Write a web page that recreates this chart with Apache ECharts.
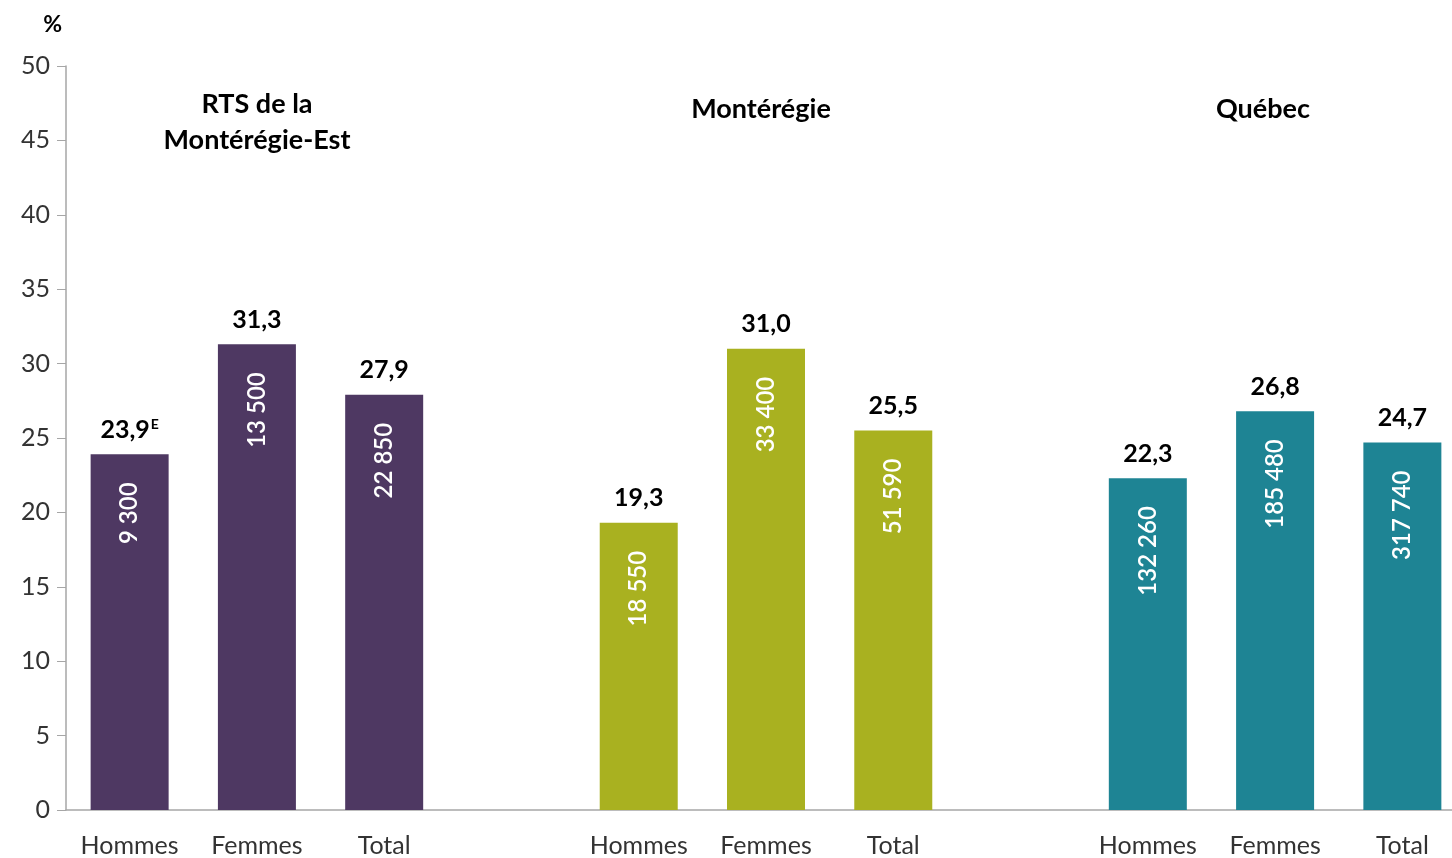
<!DOCTYPE html>
<html>
<head>
<meta charset="utf-8">
<script src="https://cdn.jsdelivr.net/npm/echarts@6/dist/echarts.min.js"></script>
<style>
  html, body { margin: 0; padding: 0; background: #fff; overflow: hidden; }
  #chart { width: 1480px; height: 858px; }
</style>
</head>
<body>
<div id="chart"></div>
<script>
const categories = ["Hommes", "Femmes", "Total", "", "Hommes", "Femmes", "Total", "", "Hommes", "Femmes", "Total"];
const percents = [23.9, 31.3, 27.9, null, 19.3, 31.0, 25.5, null, 22.3, 26.8, 24.7];
const counts = ["9 300", "13 500", "22 850", "", "18 550", "33 400", "51 590", "", "132 260", "185 480", "317 740"];
const flags = ["E", "", "", "", "", "", "", "", "", "", ""];
const groupTitles = ["RTS de la\nMontérégie-Est", "Montérégie", "Québec"];
const groupColors = ["#4E3862", "#A9B120", "#1E8494"];

const font = "Lato, 'Open Sans', sans-serif";
const colorAt = i => groupColors[Math.floor(i / 4)];

const chart = echarts.init(document.getElementById("chart"));

// the last slot runs past the picture's right edge, so the chart is a bit wider than the window
const options = {
  animation: false,
  textStyle: { fontFamily: font },
  grid: { left: 66, right: 14, top: 66, bottom: 47, containLabel: false },
  xAxis: {
    type: "category",
    data: categories,
    axisLine: { lineStyle: { color: "#A6A6A6", width: 1.5 } },
    axisTick: { show: false },
    axisLabel: { color: "#333", fontSize: 25, margin: 23, fontFamily: font, interval: 0 },
  },
  yAxis: {
    type: "value",
    min: 0,
    max: 50,
    interval: 5,
    name: "%",
    nameLocation: "end",
    nameGap: 30,
    nameTextStyle: { color: "#000", fontSize: 23, fontWeight: "bold", align: "right", padding: [0, 4, 0, 0], fontFamily: font },
    axisLine: { show: true, lineStyle: { color: "#A6A6A6", width: 1.5 } },
    axisTick: { show: true, length: 9, lineStyle: { color: "#A6A6A6" } },
    splitLine: { show: false },
    axisLabel: { color: "#333", fontSize: 25, margin: 16, fontFamily: font },
  },
  series: [
    {
      type: "bar",
      barWidth: 78,
      data: percents.map((v, i) => ({ value: v, itemStyle: { color: colorAt(i) } })),
      label: {
        show: true,
        position: "top",
        distance: 12,
        color: "#000",
        fontSize: 25,
        fontWeight: "bold",
        fontFamily: font,
        formatter: p => {
          const s = p.value.toFixed(1).replace(".", ",");
          return flags[p.dataIndex] ? s + "{sup|" + flags[p.dataIndex] + "}" : s;
        },
        rich: {
          sup: { fontSize: 14, verticalAlign: "top", color: "#000", padding: [0, 0, 10, 1], fontFamily: font },
        },
      },
    },
    {
      type: "bar",
      barWidth: 78,
      barGap: "-100%",
      silent: true,
      data: percents.map(v => v),
      itemStyle: { color: "rgba(0,0,0,0)" },
      label: {
        show: true,
        position: "insideTop",
        rotate: 90,
        align: "right",
        verticalAlign: "middle",
        distance: 28,
        color: "#fff",
        fontSize: 24,
        fontWeight: 600,
        fontFamily: font,
        formatter: p => counts[p.dataIndex],
      },
    },
  ],
  graphic: [
    { type: "text", x: 257, y: 86, style: { text: groupTitles[0], textAlign: "center", font: "bold 27px " + font, fill: "#000", lineHeight: 36 } },
    { type: "text", x: 761, y: 96, style: { text: groupTitles[1], textAlign: "center", font: "bold 27px " + font, fill: "#000" } },
    { type: "text", x: 1263, y: 96, style: { text: groupTitles[2], textAlign: "center", font: "bold 27px " + font, fill: "#000" } },
  ],
};

chart.setOption(options);
</script>
</body>
</html>
